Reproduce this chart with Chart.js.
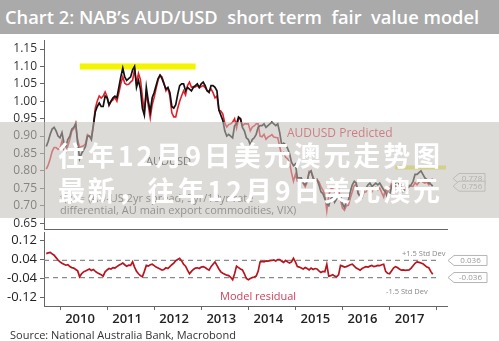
<!DOCTYPE html>
<html>
<head>
<meta charset="utf-8">
<script src="https://cdn.jsdelivr.net/npm/chart.js@4.4.1/dist/chart.umd.min.js"></script>
<style>
  body { margin: 0; width: 499px; height: 341px; overflow: hidden; background: #fff; position: relative; font-family: 'Open Sans', sans-serif; }
  #head { position: absolute; left: 0; top: 0; width: 499px; height: 34px; background: #aaa; color: #fff; font-weight: 600; font-size: 18.3px; line-height: 34px; padding-left: 5px; white-space: pre; box-sizing: border-box; }
  #topWrap { position: absolute; left: 0; top: 36px; }
  #botWrap { position: absolute; left: 0; top: 229px; }
  canvas { display: block; }
  #source { position: absolute; left: 10px; top: 327px; font-size: 11px; color: #333; }
  #veil { position: absolute; left: 0; top: 122px; width: 499px; height: 96px; background: rgba(195,191,187,0.57); }
  .big { position: absolute; left: 58px; font: 700 27px 'Noto Sans CJK SC', sans-serif; color: #fff; white-space: nowrap; line-height: 34px; }
</style>
</head>
<body>
<div id="head">Chart 2: NAB’s AUD/USD  short term  fair  value model</div>
<div id="topWrap"><canvas id="topChart" width="499" height="196"></canvas></div>
<div id="botWrap"><canvas id="botChart" width="499" height="112"></canvas></div>
<div id="source">Source: National Australia Bank, Macrobond</div>
<div id="veil"></div>
<div class="big" id="big1" style="top:138px">往年12月9日美元澳元走势图</div>
<div class="big" id="big2" style="top:173px">最新，往年12月9日美元澳元</div>
<script>
// semi-monthly observations, mid Sep 2009 .. end Nov 2017
const START_YEAR = 2009.7083;
const STEP = 1 / 24;

const AUDUSD = [
  0.870,0.885,0.905,0.920,0.925,0.915,0.900,
  0.895,0.910,0.880,0.870,0.890,0.900,0.920,0.925,0.935,0.880,0.835,0.850,0.860,0.870,0.900,0.900,0.890,0.930,0.970,0.985,0.995,0.985,0.985,1.015,
  1.010,0.990,1.000,1.010,1.015,1.010,1.040,1.070,1.095,1.070,1.060,1.065,1.070,1.090,1.100,1.040,1.060,1.035,0.980,0.960,1.040,1.000,0.970,1.010,
  1.025,1.045,1.065,1.075,1.065,1.050,1.035,1.040,1.025,0.985,0.980,0.990,1.020,1.045,1.050,1.050,1.030,1.040,1.035,1.030,1.040,1.045,1.050,1.040,
  1.050,1.055,1.045,1.030,1.025,1.045,1.045,1.040,1.030,0.975,0.960,0.945,0.915,0.900,0.905,0.900,0.895,0.930,0.935,0.955,0.950,0.925,0.915,0.895,
  0.890,0.875,0.890,0.895,0.905,0.925,0.930,0.930,0.935,0.925,0.930,0.935,0.940,0.935,0.930,0.935,0.910,0.875,0.880,0.875,0.865,0.850,0.825,0.815,
  0.820,0.780,0.780,0.780,0.765,0.760,0.770,0.795,0.800,0.780,0.770,0.775,0.760,0.740,0.735,0.720,0.705,0.700,0.720,0.725,0.710,0.720,0.725,0.730,
  0.705,0.695,0.710,0.715,0.740,0.760,0.770,0.765,0.735,0.725,0.725,0.745,0.750,0.760,0.765,0.755,0.760,0.765,0.760,0.765,0.755,0.745,0.740,0.720,
  0.730,0.755,0.765,0.765,0.765,0.760,0.755,0.740,0.745,0.750,0.755,0.760,0.770,0.790,0.790,0.795,0.800,0.790,0.780,0.775,0.765,0.762,0.756
];

const PREDICTED = [
  0.805,0.817,0.835,0.856,0.867,0.867,0.862,
  0.865,0.886,0.860,0.854,0.872,0.890,0.914,0.921,0.937,0.888,0.868,0.870,0.872,0.878,0.904,0.900,0.896,0.932,0.980,1.001,1.015,1.009,1.015,1.027,
  1.014,0.988,1.000,1.004,1.011,1.000,1.024,1.050,1.070,1.052,1.048,1.049,1.055,1.060,1.092,1.050,1.080,1.063,1.013,0.970,1.025,0.988,0.952,0.990,
  1.011,1.037,1.061,1.075,1.070,1.052,1.030,1.038,1.015,0.967,0.955,0.955,0.980,1.000,1.016,1.030,1.018,1.045,1.055,1.040,1.042,1.041,1.045,1.038,
  1.042,1.045,1.039,1.030,1.030,1.035,1.025,1.010,1.015,0.975,0.972,0.963,0.937,0.926,0.933,0.935,0.940,0.950,0.923,0.949,0.950,0.929,0.935,0.935,
  0.935,0.915,0.926,0.929,0.935,0.935,0.900,0.898,0.905,0.891,0.897,0.900,0.904,0.897,0.896,0.895,0.870,0.843,0.852,0.839,0.835,0.825,0.795,0.770,
  0.790,0.770,0.772,0.776,0.765,0.754,0.768,0.799,0.796,0.782,0.768,0.775,0.768,0.755,0.745,0.732,0.685,0.730,0.748,0.749,0.740,0.753,0.750,0.715,
  0.693,0.687,0.700,0.701,0.722,0.740,0.758,0.761,0.735,0.730,0.723,0.739,0.740,0.752,0.753,0.740,0.750,0.753,0.745,0.751,0.737,0.725,0.750,0.738,
  0.750,0.763,0.761,0.755,0.759,0.760,0.760,0.744,0.751,0.755,0.759,0.756,0.756,0.766,0.760,0.767,0.775,0.768,0.765,0.767,0.760,0.772,0.778
];

const RESIDUAL = [
  0.065,0.068,0.070,0.064,0.058,0.048,0.038,
  0.030,0.024,0.020,0.016,0.018,0.010,0.006,0.004,-0.002,-0.008,-0.033,-0.020,-0.012,-0.008,-0.004,0.000,-0.006,-0.002,-0.010,-0.016,-0.020,-0.024,-0.030,-0.012,
  -0.004,0.002,0.000,0.006,0.004,0.010,0.016,0.020,0.025,0.018,0.012,0.016,0.015,0.030,0.008,-0.010,-0.020,-0.028,-0.033,-0.010,0.015,0.012,0.018,0.020,
  0.014,0.008,0.004,0.000,-0.005,-0.002,0.005,0.002,0.010,0.018,0.025,0.035,0.040,0.045,0.034,0.020,0.012,-0.005,-0.020,-0.010,-0.002,0.004,0.005,0.002,
  0.008,0.010,0.006,0.000,-0.005,0.010,0.020,0.030,0.015,0.000,-0.012,-0.018,-0.022,-0.026,-0.028,-0.035,-0.045,-0.020,0.012,0.006,0.000,-0.004,-0.020,-0.040,
  -0.045,-0.040,-0.036,-0.034,-0.030,-0.010,0.030,0.032,0.030,0.034,0.033,0.035,0.036,0.038,0.034,0.040,0.040,0.032,0.028,0.036,0.030,0.025,0.030,0.045,
  0.030,0.010,0.008,0.004,0.000,0.006,0.002,-0.004,0.004,-0.002,0.002,0.000,-0.008,-0.015,-0.010,-0.012,0.020,-0.030,-0.028,-0.024,-0.030,-0.033,-0.025,0.015,
  0.012,0.008,0.010,0.014,0.018,0.020,0.012,0.004,0.000,-0.005,0.002,0.006,0.010,0.008,0.012,0.015,0.010,0.012,0.015,0.014,0.018,0.020,-0.010,-0.018,
  -0.020,-0.008,0.004,0.010,0.006,0.000,-0.005,-0.004,-0.006,-0.005,-0.004,0.004,0.014,0.024,0.030,0.028,0.025,0.022,0.015,0.008,0.005,-0.010,-0.022
];

const TOP_TICKS = [0.65, 0.70, 0.75, 0.80, 0.85, 0.90, 0.95, 1.00, 1.05, 1.10, 1.15];
const BOT_TICKS = [-0.12, -0.08, -0.04, 0, 0.04, 0.08, 0.12];
const BOT_LABELED = [-0.12, -0.04, 0.04, 0.12];
const YEARS = [2010, 2011, 2012, 2013, 2014, 2015, 2016, 2017, 2018];
const X_MIN = 2009.66, X_MAX = 2018.22;

// yellow target bars and std-dev band
const TARGET_HIGH = { from: 2010.42, to: 2012.88, level: 1.10 };
const TARGET_LOW = { from: 2017.12, to: 2018.2, level: 0.81 };
const STD_DEV = 0.036;
const LAST_TAGS = [0.778, 0.756];

const dates = AUDUSD.map((_, i) => START_YEAR + i * STEP);
const pts = arr => arr.map((v, i) => ({ x: dates[i], y: v }));
const seg = (a, b, y) => [{ x: a, y }, { x: b, y }];

function tag(ctx, x, y, text, w) {
  ctx.save();
  ctx.beginPath();
  ctx.moveTo(x, y);
  ctx.lineTo(x + 6, y - 5);
  ctx.lineTo(x + w, y - 5);
  ctx.lineTo(x + w, y + 5);
  ctx.lineTo(x + 6, y + 5);
  ctx.closePath();
  ctx.fillStyle = '#fff';
  ctx.fill();
  ctx.strokeStyle = '#b5b5b5';
  ctx.lineWidth = 1;
  ctx.stroke();
  ctx.fillStyle = '#999';
  ctx.font = '8px "Open Sans"';
  ctx.textAlign = 'center';
  ctx.textBaseline = 'middle';
  ctx.fillText(text, x + 6 + (w - 6) / 2, y + 0.5);
  ctx.restore();
}

const topNotes = {
  id: 'topNotes',
  afterDraw(chart) {
    const ctx = chart.ctx, y = chart.scales.y;
    ctx.save();
    ctx.textBaseline = 'middle';
    ctx.font = '12px "Open Sans"';
    ctx.fillStyle = '#d42a3a';
    ctx.fillText('AUDUSD Predicted', 287, 98);
    ctx.fillStyle = '#222';
    ctx.font = '11px "Open Sans"';
    ctx.fillText('AUDUSD', 146, 126);
    ctx.fillStyle = '#555';
    ctx.font = '11px "Open Sans"';
    ctx.fillText('f(x) = (AU-US 2yr spread, 5yr/10yr rate', 60, 163);
    ctx.fillText('differential, AU main export commodities, VIX)', 60, 175);
    ctx.restore();
    LAST_TAGS.forEach(v => tag(ctx, chart.chartArea.right + 6, y.getPixelForValue(v), v.toFixed(3), 32));
  }
};

const botNotes = {
  id: 'botNotes',
  afterDraw(chart) {
    const ctx = chart.ctx, y = chart.scales.y;
    ctx.save();
    ctx.textBaseline = 'middle';
    ctx.fillStyle = '#888';
    ctx.font = '7.5px "Open Sans"';
    ctx.fillText('+1.5 Std Dev', 402, 25);
    ctx.fillText('-1.5 Std Dev', 386, 63);
    ctx.fillStyle = '#d0405a';
    ctx.font = '11px "Open Sans"';
    ctx.fillText('Model residual', 220, 68);
    ctx.restore();
    [STD_DEV, -STD_DEV].forEach(v => tag(ctx, chart.chartArea.right + 1, y.getPixelForValue(v), v.toFixed(3), 39));
  }
};

const line = (data, color, width, extra) => Object.assign({
  data, borderColor: color, borderWidth: width, pointRadius: 0, tension: 0, fill: false
}, extra || {});

// fixed axis sizes so both panels line up
const fixY = s => { s.width = 44; s.paddingTop = 0; s.paddingBottom = 0; };
const fixX = h => s => { s.height = h; s.paddingLeft = 0; s.paddingRight = 0; };

new Chart(document.getElementById('topChart'), {
  type: 'line',
  data: {
    datasets: [
      line(pts(AUDUSD), '#111', 1.7),
      line(pts(PREDICTED), '#e0202c', 1.6),
      line(seg(TARGET_HIGH.from, TARGET_HIGH.to, TARGET_HIGH.level), '#f4f400', 6, { borderCapStyle: 'butt' }),
      line(seg(TARGET_LOW.from, TARGET_LOW.to, TARGET_LOW.level), '#e6e64a', 4, { borderCapStyle: 'butt' }),
    ]
  },
  options: {
    responsive: false, animation: false, devicePixelRatio: 1,
    layout: { padding: { top: 4, right: 52, bottom: 0, left: 0 } },
    plugins: { legend: { display: false }, tooltip: { enabled: false } },
    scales: {
      x: {
        type: 'linear', min: X_MIN, max: X_MAX,
        ticks: { display: false },
        grid: { display: false },
        border: { display: true, color: '#666', width: 1 },
        afterFit: fixX(3)
      },
      y: {
        min: 0.633, max: 1.176,
        afterBuildTicks: s => { s.ticks = TOP_TICKS.map(v => ({ value: v })); },
        afterFit: fixY,
        ticks: { color: '#333', font: { family: 'Open Sans', size: 12 }, padding: 3, callback: v => v.toFixed(2) },
        grid: { drawOnChartArea: false, drawTicks: true, tickLength: 4, color: '#666' },
        border: { color: '#666', width: 1 }
      }
    }
  },
  plugins: [topNotes]
});

new Chart(document.getElementById('botChart'), {
  type: 'line',
  data: {
    datasets: [
      line(pts(RESIDUAL), '#b8141f', 1.7),
      line(seg(X_MIN, 2018.0, STD_DEV), '#8a8a8a', 1.2, { borderDash: [5, 4] }),
      line(seg(X_MIN, 2018.0, -STD_DEV), '#8a8a8a', 1.2, { borderDash: [5, 4] }),
    ]
  },
  options: {
    responsive: false, animation: false, devicePixelRatio: 1,
    layout: { padding: { top: 3, right: 52, bottom: 0, left: 0 } },
    plugins: { legend: { display: false }, tooltip: { enabled: false } },
    scales: {
      x: {
        type: 'linear', min: X_MIN, max: X_MAX,
        afterBuildTicks: s => { s.ticks = YEARS.map(v => ({ value: v })); },
        afterFit: fixX(35),
        ticks: {
          autoSkip: false, maxRotation: 0, labelOffset: 20, padding: 1,
          color: '#222', font: { family: 'Open Sans', size: 13, weight: '600' },
          callback: v => v < 2018 ? String(v) : ''
        },
        grid: { drawOnChartArea: false, drawTicks: true, tickLength: 4, color: '#666' },
        border: { color: '#666', width: 1 }
      },
      y: {
        min: -0.156, max: 0.156,
        afterBuildTicks: s => { s.ticks = BOT_TICKS.map(v => ({ value: v })); },
        afterFit: fixY,
        ticks: {
          color: '#222', font: { family: 'Open Sans', size: 13 }, padding: 3,
          callback: v => BOT_LABELED.some(b => Math.abs(b - v) < 1e-6) ? v.toFixed(2) : ''
        },
        grid: { drawOnChartArea: false, drawTicks: true, tickLength: 4, color: '#666' },
        border: { color: '#666', width: 1 }
      }
    }
  },
  plugins: [botNotes]
});

// stretch the two overlay lines to the same width
['big1', 'big2'].forEach(id => {
  const el = document.getElementById(id);
  const n = [...el.textContent].length;
  const w = el.getBoundingClientRect().width;
  el.style.letterSpacing = ((382 - w) / (n - 1)) + 'px';
});
</script>
</body>
</html>
